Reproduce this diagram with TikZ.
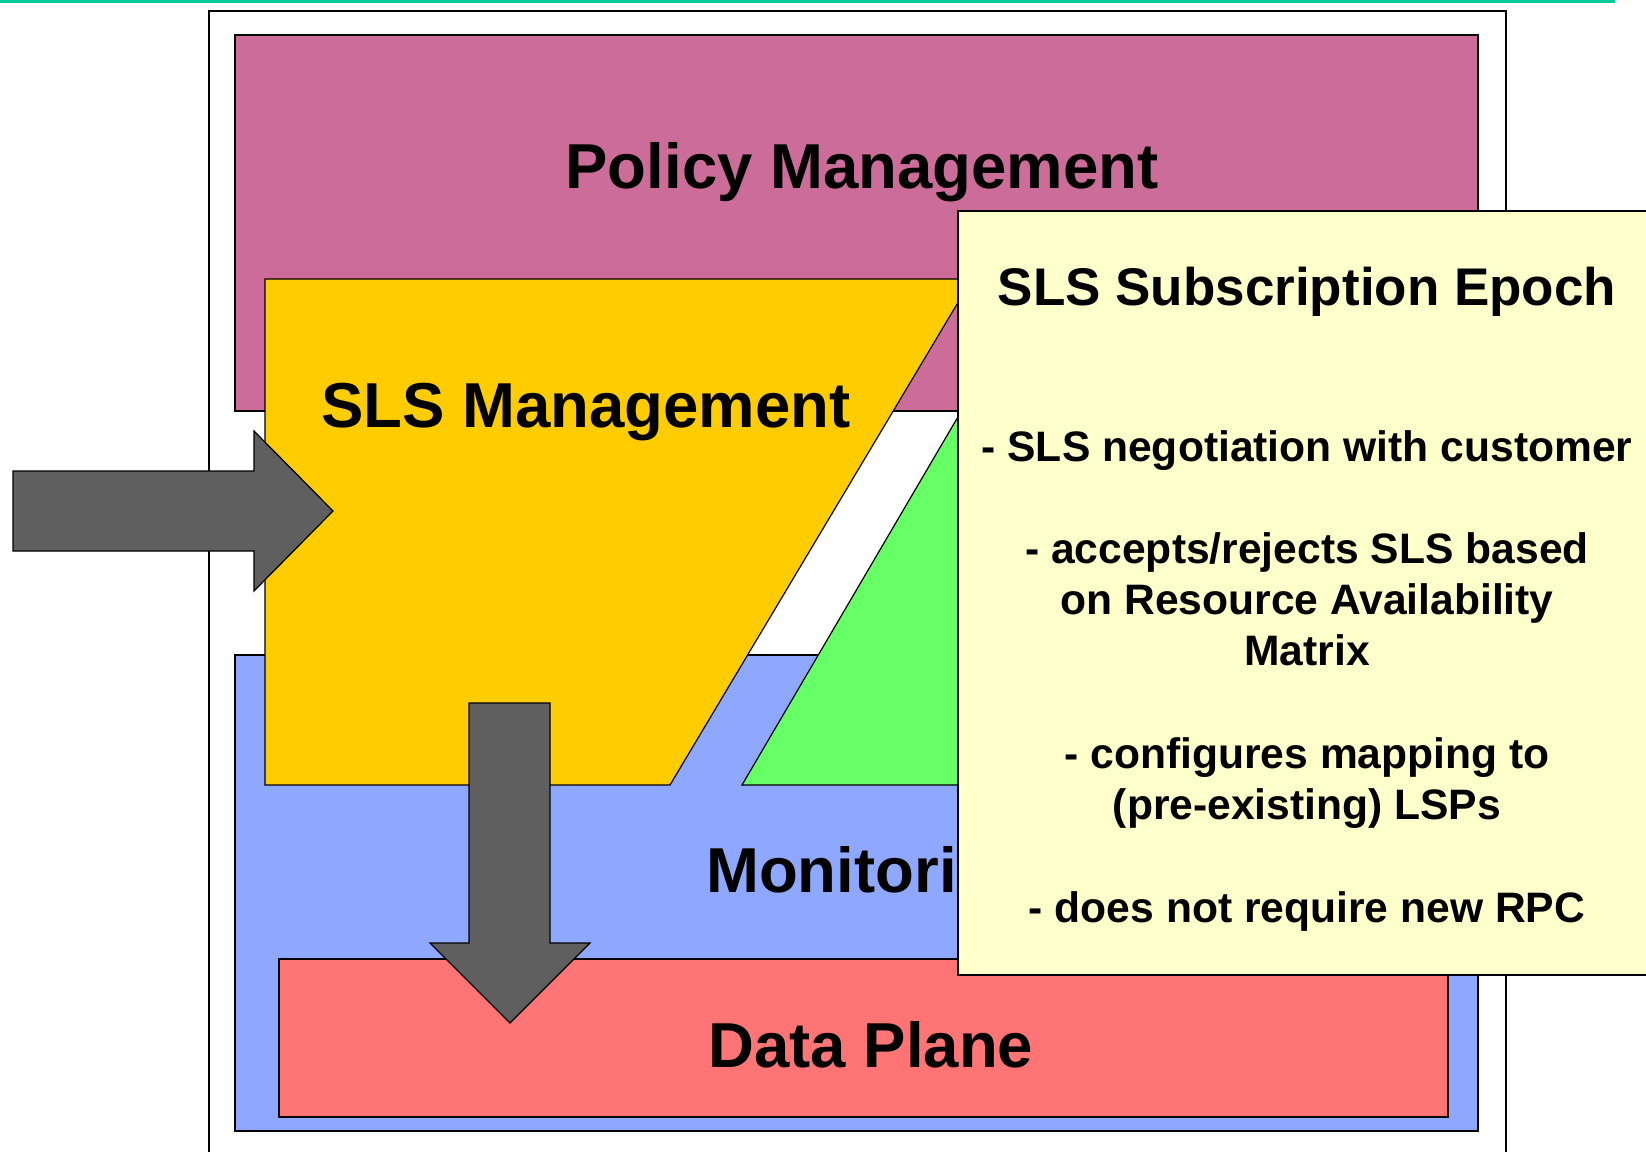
\documentclass[tikz,border=0pt]{standalone}
\usepackage{fontspec}
\setmainfont{Liberation Sans}
\definecolor{tealc}{HTML}{00CC99}
\definecolor{pinkc}{HTML}{CC6C99}
\definecolor{bluec}{HTML}{8FA8FF}
\definecolor{redc}{HTML}{FF7575}
\definecolor{yellowc}{HTML}{FFCC00}
\definecolor{greenc}{HTML}{66FF66}
\definecolor{arrowc}{HTML}{5F5F5F}
\definecolor{notec}{HTML}{FFFFCC}
\begin{document}
\begin{tikzpicture}[x=1pt,y=-1pt,
  outl/.style={draw=black,line width=1.2pt,line join=miter},
  bigtext/.style={font=\bfseries\fontsize{63.5}{76}\selectfont,inner sep=0pt},
  titletext/.style={font=\bfseries\fontsize{53}{64}\selectfont,inner sep=0pt,anchor=base},
  bodytext/.style={font=\bfseries\fontsize{42.6}{51}\selectfont,inner sep=0pt,anchor=base}]
\useasboundingbox (0,0) rectangle (1646,1151);
% top rule
\fill[tealc] (0,0) rectangle (1615,2.8);
% outer frame (open at the bottom)
\draw[line width=1.4pt] (209,1170) -- (209,11) -- (1506,11) -- (1506,1170);
% layers
\filldraw[outl,fill=pinkc] (235,35) rectangle (1478,411);
\filldraw[outl,fill=bluec] (235,655) rectangle (1478,1131);
\filldraw[outl,fill=redc] (279,959) rectangle (1448,1117);
\filldraw[outl,fill=yellowc] (265,279) -- (972,279) -- (670,785) -- (265,785) -- cycle;
\filldraw[outl,fill=greenc] (742,785) -- (962,410) -- (1200,410) -- (1200,785) -- cycle;
% labels
\node[bigtext,anchor=base] (policy) at (862,188) {Policy Management};
\node[bigtext,anchor=base] (slsm) at (586,427) {SLS Management};
\node[bigtext,anchor=base west] (monit) at (706,892) {Monitoring};
\node[bigtext,anchor=base] (data) at (871,1067) {Data Plane};
% block arrows
\filldraw[outl,fill=arrowc] (13,471) -- (254,471) -- (254,431) -- (333,511) -- (254,591) -- (254,551) -- (13,551) -- cycle;
\filldraw[outl,fill=arrowc] (469,703) -- (550,703) -- (550,943) -- (590,943) -- (510,1023) -- (430,943) -- (469,943) -- cycle;
% note
\filldraw[outl,fill=notec] (958,211) rectangle (1720,975);
\node[titletext] (ntitle) at (1307,305) {SLS Subscription Epoch};
\node[bodytext] (n1) at (1307,461) {- SLS negotiation with customer};
\node[bodytext] (n2) at (1307,563) {- accepts/rejects SLS based};
\node[bodytext] (n3) at (1307,614) {on Resource Availability};
\node[bodytext] (n4) at (1307,665) {Matrix};
\node[bodytext] (n5) at (1307,768) {- configures mapping to};
\node[bodytext] (n6) at (1307,819) {(pre-existing) LSPs};
\node[bodytext] (n7) at (1307,922) {- does not require new RPC};
\end{tikzpicture}
\end{document}
